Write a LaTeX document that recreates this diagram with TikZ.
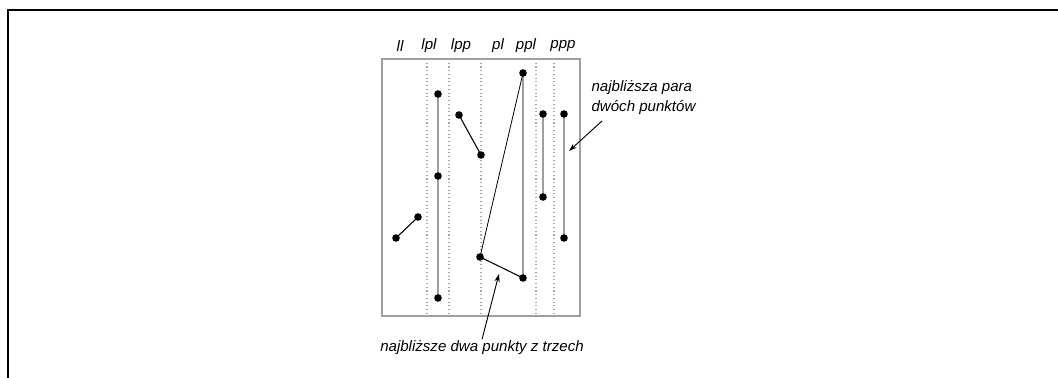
\documentclass[tikz,border=0pt]{standalone}
\usepackage{fontspec}
\setmainfont{Liberation Sans}
\usetikzlibrary{calc,arrows.meta}

\tikzset{
	lbl/.style={font=\itshape\fontsize{11.3}{15}\selectfont, inner sep=1pt},
	pair/.style={draw=gray!75, line width=2pt},
	split/.style={draw=gray!70, dotted, line width=0.8pt},
	pointer/.style={-{Stealth[length=6pt,width=4pt]}, line width=0.7pt}
}
\newcommand{\pkt}[1]{\fill (#1) circle (3.8);}

\begin{document}
\begin{tikzpicture}[x=0.75pt,y=-0.75pt]
	\useasboundingbox (0,0) rectangle (1058,378);
	\draw[line width=1.5pt] (8,378) -- (8,10) -- (1058,10);

	% obszar i linie podzialu
	\coordinate (box1) at (382,59);
	\coordinate (box2) at (580,316);
	\draw[gray!75, line width=1.5pt] (box1) rectangle (box2);
	\foreach \x in {427,449,481,536,554}
		\draw[split] (\x,59) -- (\x,316);

	\node[lbl] (tll)  at (400,46) {ll};
	\node[lbl] (tlpl) at (429,46) {lpl};
	\node[lbl] (tlpp) at (461,46) {lpp};
	\node[lbl] (tpl)  at (498,46) {pl};
	\node[lbl] (tppl) at (526,46) {ppl};
	\node[lbl] (tppp) at (563,46) {ppp};

	% punkty
	\coordinate (ll1) at (396,238);
	\coordinate (ll2) at (418,217);
	\coordinate (lpl1) at (438,94);
	\coordinate (lpl2) at (438,176);
	\coordinate (lpl3) at (438,298);
	\coordinate (lpp1) at (459,115);
	\coordinate (lpp2) at (481,155);
	\coordinate (pl1) at (480,257);
	\coordinate (pl2) at (523,73);
	\coordinate (pl3) at (523,278);
	\coordinate (ppl1) at (543,114);
	\coordinate (ppl2) at (543,197);
	\coordinate (ppp1) at (564,114);
	\coordinate (ppp2) at (564,238);

	\draw[pair] (lpl1) -- (lpl3);
	\draw[pair] (pl2) -- (pl3);
	\draw[pair] (ppl1) -- (ppl2);
	\draw[pair] (ppp1) -- (ppp2);
	\draw[thick] (ll1) -- (ll2);
	\draw[thick] (lpp1) -- (lpp2);
	\draw[semithick] (pl1) -- (pl2);
	\draw[thick] (pl1) -- (pl3);

	\foreach \p in {ll1,ll2,lpl1,lpl2,lpl3,lpp1,lpp2,pl1,pl2,pl3,ppl1,ppl2,ppp1,ppp2}
		{\pkt{\p}}

	% opisy
	\node[lbl, anchor=west, align=left] (para) at (590,98) {najbliższa para\\dwóch punktów};
	\coordinate (parastart) at (602,121);
	\coordinate (paraend) at (569,151);
	\draw[pointer] (parastart) -- (paraend);

	\node[lbl] (trzy) at (482,348) {najbliższe dwa punkty z trzech};
	\coordinate (trzyend) at (499,274);
	\draw[pointer] (trzy.north) -- (trzyend);
\end{tikzpicture}
\end{document}
